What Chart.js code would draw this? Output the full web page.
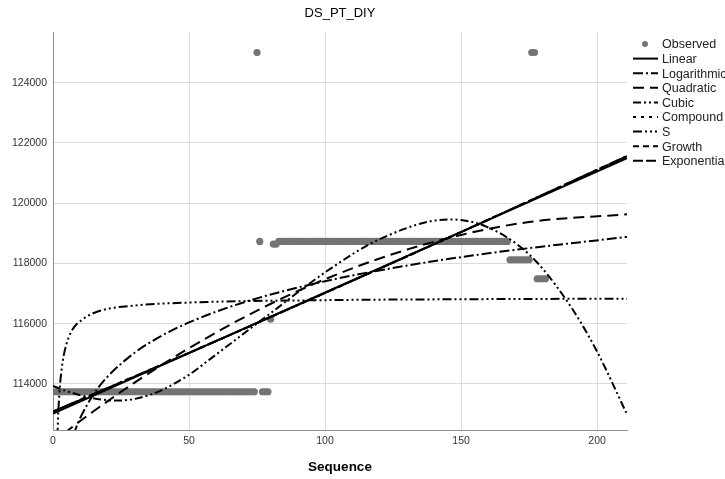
<!DOCTYPE html>
<html>
<head>
<meta charset="utf-8">
<title>DS_PT_DIY</title>
<script src="https://cdn.jsdelivr.net/npm/chart.js@4.4.1/dist/chart.umd.min.js"></script>
<style>
  html, body { margin: 0; padding: 0; background: #fff; }
</style>
</head>
<body>
<canvas id="fitChart" width="725" height="479"></canvas>
<script>
// observed values, as runs of [first seq, last seq, value]
const observedRuns = [
  [1, 74, 113740],
  [75, 75, 125000],
  [76, 76, 118730],
  [77, 79, 113740],
  [80, 80, 116150],
  [81, 82, 118640],
  [83, 167, 118730],
  [168, 175, 118120],
  [176, 177, 125000],
  [178, 181, 117490]
];

// fitted curves
const linSeq = [0, 211];
const linVal = [113015, 121495];

const logSeq = [7.5, 8, 10, 15, 20, 30, 40, 50, 70, 100, 130, 160, 211];
const logVal = [112300, 112427, 112867, 113666, 114234, 115033, 115600, 116040, 116704, 117408, 117925, 118334, 118880];

const quadSeq = [4, 10, 20, 30, 50, 75, 100, 125, 150, 175, 211];
const quadVal = [112358, 112767, 113421, 114043, 115187, 116433, 117475, 118312, 118945, 119373, 119630];

const cubicSeq = [0, 5, 14.8, 23.4, 35.6, 49, 58.7, 80, 101.6, 120, 145.6, 159, 175, 188.5, 199.5, 211];
const cubicVal = [113930, 113760, 113525, 113445, 113635, 114243, 114890, 116350, 117800, 118800, 119460, 119230, 118300, 116810, 115160, 112990];

const sSeq = [1.6, 2, 2.6, 3.5, 5, 7, 11, 17, 30, 50, 100, 150, 211];
const sVal = [112250, 113150, 113990, 114710, 115340, 115780, 116150, 116420, 116600, 116700, 116780, 116810, 116830];

// compound, growth and exponential give the same curve
const expSeq = [0, 50, 100, 150, 211];
const expVal = [113080, 115030, 117020, 119040, 121560];

const xTicks = [0, 50, 100, 150, 200];
const yTicks = [114000, 116000, 118000, 120000, 122000, 124000];

const FONT = '"Liberation Sans", Arial, sans-serif';

function observedPoints() {
  const pts = [];
  observedRuns.forEach(function (run) {
    for (let s = run[0]; s <= run[1]; s++) {
      pts.push({ x: s, y: run[2] });
    }
  });
  return pts;
}

function curve(label, seq, vals, dash) {
  return {
    type: "line",
    label: label,
    data: seq.map(function (x, i) { return { x: x, y: vals[i] }; }),
    borderColor: "#000",
    borderWidth: 2,
    borderDash: dash,
    pointRadius: 0,
    fill: false,
    cubicInterpolationMode: "monotone",
    order: 1
  };
}

// legend drawn by hand so the dash patterns show
const sideLegend = {
  id: "sideLegend",
  afterDraw(chart) {
    const ctx = chart.ctx;
    ctx.save();
    ctx.font = "12.5px " + FONT;
    ctx.textBaseline = "middle";
    chart.data.datasets.forEach(function (ds, i) {
      const y = 44 + i * 14.6;
      if (ds.type === "scatter") {
        ctx.fillStyle = ds.backgroundColor;
        ctx.beginPath();
        ctx.arc(645, y, 3, 0, Math.PI * 2);
        ctx.fill();
      } else {
        ctx.strokeStyle = "#000";
        ctx.lineWidth = 2;
        ctx.setLineDash(ds.borderDash || []);
        ctx.beginPath();
        ctx.moveTo(633, y);
        ctx.lineTo(658, y);
        ctx.stroke();
        ctx.setLineDash([]);
      }
      ctx.fillStyle = "#222";
      ctx.textAlign = "left";
      ctx.fillText(ds.label, 662, y + 1);
    });
    ctx.restore();
  }
};

const ctx = document.getElementById("fitChart").getContext("2d");
new Chart(ctx, {
  data: {
    datasets: [
      {
        type: "scatter",
        label: "Observed",
        data: observedPoints(),
        backgroundColor: "#747474",
        borderWidth: 0,
        pointRadius: 3.6,
        order: 10
      },
      curve("Linear", linSeq, linVal, []),
      curve("Logarithmic", logSeq, logVal, [10, 3, 2, 3]),
      curve("Quadratic", quadSeq, quadVal, [11, 6]),
      curve("Cubic", cubicSeq, cubicVal, [8, 3, 2, 3, 2, 3]),
      curve("Compound", expSeq, expVal, [3, 5]),
      curve("S", sSeq, sVal, [9, 3, 2, 3, 2, 3, 2, 3]),
      curve("Growth", expSeq, expVal, [6, 4]),
      curve("Exponential", expSeq, expVal, [10, 3])
    ]
  },
  options: {
    responsive: false,
    animation: false,
    devicePixelRatio: 1,
    layout: { padding: { left: 0, right: 98, top: 0, bottom: 0 } },
    plugins: {
      legend: { display: false },
      tooltip: { enabled: false },
      title: {
        display: true,
        text: "DS_PT_DIY",
        fullSize: false,
        color: "#000",
        font: { family: FONT, size: 13, weight: "normal" },
        padding: { top: 6, bottom: 11 }
      }
    },
    scales: {
      x: {
        type: "linear",
        min: 0,
        max: 211,
        afterBuildTicks: function (scale) {
          scale.ticks = xTicks.map(function (v) { return { value: v }; });
        },
        afterFit: function (scale) { scale.height = 49; },
        grid: {
          color: function (c) { return c.tick && c.tick.value === 0 ? "rgba(0,0,0,0)" : "#dcdcdc"; },
          drawTicks: false
        },
        border: { color: "#8f8f8f" },
        ticks: {
          padding: 5,
          color: "#333",
          font: { family: FONT, size: 10.5 },
          callback: function (v) { return String(v); }
        },
        title: {
          display: true,
          text: "Sequence",
          color: "#000",
          font: { family: FONT, size: 13.5, weight: "bold" },
          padding: { top: 0, bottom: 4 }
        }
      },
      y: {
        type: "linear",
        min: 112470,
        max: 125660,
        afterBuildTicks: function (scale) {
          scale.ticks = yTicks.map(function (v) { return { value: v }; });
        },
        afterFit: function (scale) { scale.width = 53; },
        grid: { color: "#dcdcdc", drawTicks: false },
        border: { color: "#8f8f8f" },
        ticks: {
          padding: 6,
          color: "#333",
          font: { family: FONT, size: 10.5 },
          callback: function (v) { return String(v); }
        }
      }
    }
  },
  plugins: [sideLegend]
});
</script>
</body>
</html>
